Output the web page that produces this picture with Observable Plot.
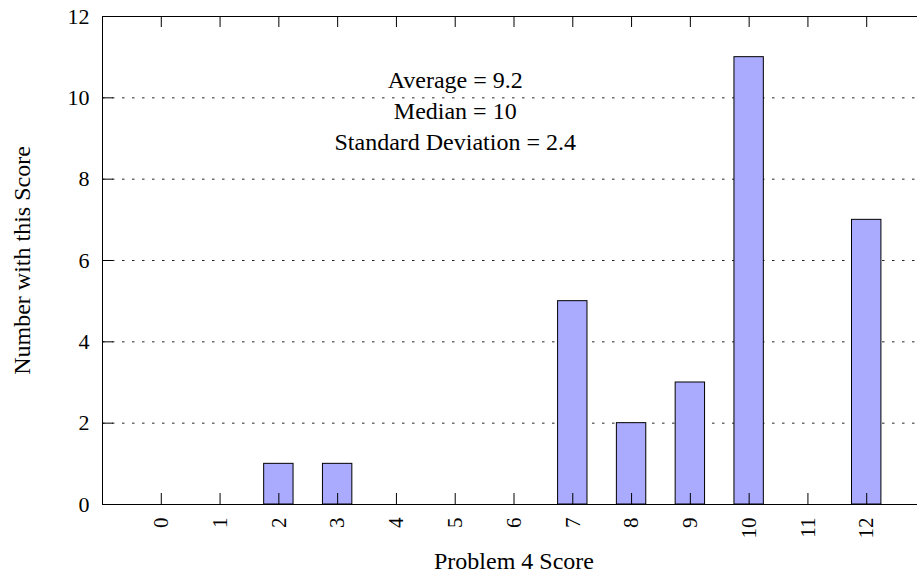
<!DOCTYPE html>
<html>
<head>
<meta charset="utf-8">
<script src="https://cdn.jsdelivr.net/npm/d3@7"></script>
<script src="https://cdn.jsdelivr.net/npm/@observablehq/plot@0.6"></script>
<style>
  html, body { margin: 0; padding: 0; background: #fff; }
  #chart { width: 917px; height: 572px; overflow: hidden; }
</style>
</head>
<body>
<div id="chart"></div>
<script>
const scores = [0, 1, 2, 3, 4, 5, 6, 7, 8, 9, 10, 11, 12];
const counts = [0, 0, 1, 1, 0, 0, 0, 5, 2, 3, 11, 0, 7];
const yTicks = [0, 2, 4, 6, 8, 10, 12];
const gridTicks = [2, 4, 6, 8, 10];
const statLines = ["Average = 9.2", "Median = 10", "Standard Deviation = 2.4"];
const statAt = [{x: 5, y: 9.72}];
const xLabel = "Problem 4 Score";
const yLabel = "Number with this Score";

const data = scores.map((s, i) => ({score: s, count: counts[i]}));
const halfWidth = 0.25;

const W = 917, H = 572, mL = 102, mR = -8, mT = 16, mB = 68;
const xDom = [-1, 13], yDom = [0, 12];
const frameW = W - mL - mR, frameH = H - mT - mB;
const tick = 11;
const tickY = tick * (yDom[1] - yDom[0]) / frameH;
const tickX = tick * (xDom[1] - xDom[0]) / frameW;

const chart = Plot.plot({
  width: W,
  height: H,
  marginLeft: mL,
  marginRight: mR,
  marginTop: mT,
  marginBottom: mB,
  style: {fontFamily: "'Liberation Serif', 'DejaVu Serif', serif", fontSize: "24px", color: "#000", background: "#fff"},
  x: {domain: xDom, axis: null},
  y: {domain: yDom, axis: null},
  marks: [
    Plot.gridY(gridTicks, {stroke: "#000", strokeOpacity: 0.85, strokeDasharray: "2.5,7.5"}),
    Plot.rectY(data.filter(d => d.count > 0), {x1: d => d.score - halfWidth, x2: d => d.score + halfWidth, y: "count", fill: "#aaaaff", stroke: "#000", strokeWidth: 1}),
    Plot.frame({stroke: "#000"}),
    Plot.ruleX(scores, {x: d => d, y1: yDom[0], y2: yDom[0] + tickY, stroke: "#000"}),
    Plot.ruleX(scores, {x: d => d, y1: yDom[1] - tickY, y2: yDom[1], stroke: "#000"}),
    Plot.ruleY(yTicks, {y: d => d, x1: xDom[0], x2: xDom[0] + tickX, stroke: "#000"}),
    Plot.axisX({anchor: "bottom", ticks: scores, tickSize: 0, tickPadding: 13, tickRotate: -90, fontSize: 21, label: null}),
    Plot.axisX({anchor: "bottom", ticks: [], label: xLabel, labelAnchor: "center", labelArrow: "none", labelOffset: 64, fontSize: 24}),
    Plot.axisY({anchor: "left", ticks: yTicks, tickSize: 0, tickPadding: 13, fontSize: 22, label: null}),
    Plot.axisY({anchor: "left", ticks: [], label: yLabel, labelAnchor: "center", labelArrow: "none", labelOffset: 90, fontSize: 24}),
    Plot.text(statAt, {x: "x", y: "y", text: () => statLines.join("\n"), lineHeight: 1.3, fontSize: 24, textAnchor: "middle", lineAnchor: "middle", fill: "#000"})
  ]
});
document.getElementById("chart").appendChild(chart);
</script>
</body>
</html>
